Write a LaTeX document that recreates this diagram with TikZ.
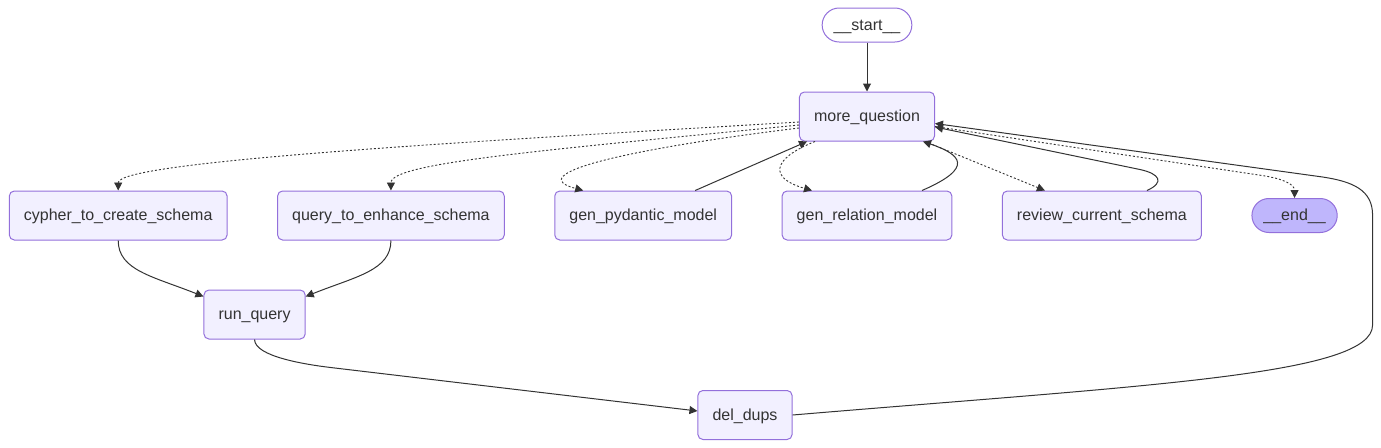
\documentclass[tikz,border=0pt]{standalone}
\usepackage{fontspec}
\setmainfont{Liberation Sans}
\usepackage{xcolor}
\usepackage{tikz}
\usetikzlibrary{arrows.meta,positioning,calc}

\definecolor{nodefill}{HTML}{F2F0FF}
\definecolor{nodeline}{HTML}{9370DB}
\definecolor{endfill}{HTML}{BFB6FC}
\definecolor{ink}{HTML}{333333}

\begin{document}
\begin{tikzpicture}[
    x=1pt, y=-1pt,
    node distance=49pt and 49.5pt,
    flowbox/.style={rectangle, draw=nodeline, fill=nodefill, line width=1pt, rounded corners=5pt, minimum height=49pt, inner xsep=14.6pt, text=ink, text height=13pt, text depth=3pt, font=\fontsize{16}{19}\selectfont},
    termbox/.style={flowbox, rounded corners=17pt, minimum height=34pt, inner xsep=11.5pt},
    arrow/.style={-{Triangle[length=8pt, width=8pt]}, line width=1pt, draw=ink},
    dots/.style={arrow, line width=0.9pt, dash pattern=on 2pt off 2pt}
]
    \useasboundingbox (0,0) rectangle (1381,447);

    \node [termbox, fill=white] (startnode) at (867,25) {\_\_start\_\_};
    \node [flowbox, below=of startnode] (moreq) {more\_question};

    % row of worker nodes
    \node [flowbox, below=of moreq] (relation) {gen\_relation\_model};
    \node [flowbox, left=of relation] (pydantic) {gen\_pydantic\_model};
    \node [flowbox, left=of pydantic] (enhance) {query\_to\_enhance\_schema};
    \node [flowbox, left=of enhance] (cypher) {cypher\_to\_create\_schema};
    \node [flowbox, right=of relation] (review) {review\_current\_schema};
    \node [termbox, fill=endfill, right=of review] (endnode) {\_\_end\_\_};

    \coordinate (rowmid) at ($(cypher.south)!0.5!(enhance.south)$);
    \node [flowbox, below=of rowmid] (runq) {run\_query};
    \node [flowbox, anchor=north] (deldups) at (745,390) {del\_dups};

    \draw [arrow] (startnode) -- (moreq);

    % conditional edges out of more_question
    \draw [dots] ($(moreq.west)+(0,5.5)$) .. controls +(-300,18) and +(0,-30) .. (cypher.north);
    \draw [dots] ($(moreq.west)+(0,8.5)$) .. controls +(-250,25) and +(0,-28) .. (enhance.north);
    \draw [dots] ($(moreq.west)+(0,11.5)$) .. controls +(-180,22) and +(-60,-16) .. ([xshift=-60pt]pydantic.north);
    \draw [dots] ([xshift=-52pt]moreq.south) .. controls +(-45,18) and +(-42,-12) .. ([xshift=-55pt]relation.north);
    \draw [dots] ([xshift=58pt]moreq.south) -- ([xshift=-57pt]review.north);
    \draw [dots] ($(moreq.east)+(0,10)$) -- ++(327,49) .. controls +(23,3.5) and +(0,-13) .. (endnode.north);

    % back edges into more_question
    \draw [arrow] ([xshift=52pt]pydantic.north) -- ([xshift=-60pt]moreq.south);
    \draw [arrow] ([xshift=55pt]relation.north) .. controls +(53,-23) and +(38,13) .. ([xshift=56pt]moreq.south);
    \draw [arrow] ([xshift=45pt]review.north) .. controls +(18,-8) and +(20,4.3) .. ++(-7,-21) -- ($(moreq.east)+(0,10.5)$);
    \draw [arrow] (deldups.east) .. controls +(357,-30) and +(0,50) .. ++(580,-90) -- ++(0,-110)
        .. controls +(0,-25) and +(30,4.5) .. ++(-50,-38) -- ($(moreq.east)+(0,7)$);

    % query path
    \draw [arrow] (cypher.south) .. controls +(0,30) and +(-50,-20) .. ($(runq.north west)+(0,7)$);
    \draw [arrow] (enhance.south) .. controls +(0,30) and +(50,-20) .. ($(runq.north east)+(0,7)$);
    \draw [arrow] (runq.south) .. controls +(0,17) and +(-25,-3) .. ++(76,28) -- ($(deldups.west)+(0,-4)$);
\end{tikzpicture}
\end{document}
